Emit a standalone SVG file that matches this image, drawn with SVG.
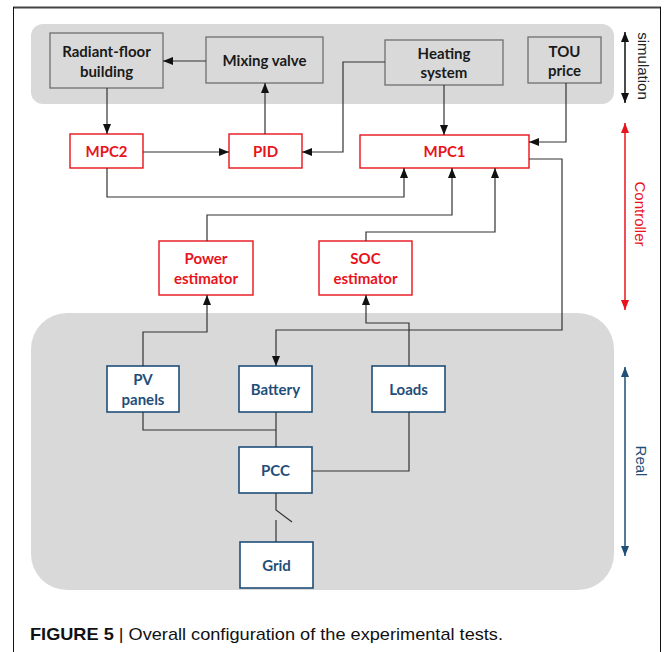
<svg xmlns="http://www.w3.org/2000/svg" width="665" height="652" viewBox="0 0 665 652">
<style>
.band{fill:#d9d9d9}
.sim rect{fill:#d9d9d9;stroke:#6f6f6f;stroke-width:1.3}
.sim text{font-family:Lato,"Open Sans",sans-serif;font-weight:700;font-size:15px;fill:#1a1a1a;text-anchor:middle}
.ctl rect{fill:#fff;stroke:#e8131b;stroke-width:1.4}
.ctl text{font-family:Lato,"Open Sans",sans-serif;font-weight:700;font-size:15px;fill:#e8131b;text-anchor:middle}
.real rect{fill:#fff;stroke:#1f4e79;stroke-width:1.6}
.real text{font-family:Lato,"Open Sans",sans-serif;font-weight:700;font-size:15px;fill:#1f4e79;text-anchor:middle}
.conn path{fill:none;stroke:#333;stroke-width:1.2}
.side{font-family:"Liberation Sans",Arial,sans-serif;font-size:15px;text-anchor:middle;dominant-baseline:central}
</style>
<defs>
<marker id="ah" markerUnits="userSpaceOnUse" markerWidth="10" markerHeight="10" viewBox="0 0 10 10" refX="10" refY="5" orient="auto"><path d="M0,1 L10,5 L0,9 Z" fill="#111"/></marker>
<marker id="ahb" markerUnits="userSpaceOnUse" markerWidth="10" markerHeight="10" viewBox="0 0 10 10" refX="10" refY="5" orient="auto-start-reverse"><path d="M0,1 L10,5 L0,9 Z" fill="#111"/></marker>
<marker id="ahr" markerUnits="userSpaceOnUse" markerWidth="10" markerHeight="10" viewBox="0 0 10 10" refX="10" refY="5" orient="auto-start-reverse"><path d="M0,1 L10,5 L0,9 Z" fill="#e8131b"/></marker>
<marker id="ahu" markerUnits="userSpaceOnUse" markerWidth="10" markerHeight="10" viewBox="0 0 10 10" refX="10" refY="5" orient="auto-start-reverse"><path d="M0,1 L10,5 L0,9 Z" fill="#1f4e79"/></marker>
</defs>
<rect width="665" height="652" fill="#fff"/>
<line x1="13" y1="7.5" x2="661" y2="7.5" stroke="#444" stroke-width="2"/>
<line x1="13.5" y1="7" x2="13.5" y2="652" stroke="#111" stroke-width="1"/>
<line x1="660.5" y1="7" x2="660.5" y2="652" stroke="#111" stroke-width="1"/>
<rect class="band" x="31" y="24" width="583" height="80" rx="12"/>
<rect class="band" x="31" y="313" width="583" height="277" rx="36"/>

<g id="radiant" class="sim"><rect x="50" y="33" width="113" height="55"/><text x="106.5" y="57">Radiant-floor</text><text x="106.5" y="77">building</text></g>
<g id="mixing" class="sim"><rect x="206" y="37" width="117" height="46"/><text x="264.5" y="66">Mixing valve</text></g>
<g id="heating" class="sim"><rect x="385" y="40" width="118" height="45"/><text x="444" y="59">Heating</text><text x="444" y="78">system</text></g>
<g id="tou" class="sim"><rect x="528" y="37" width="73" height="46"/><text x="564.5" y="57">TOU</text><text x="564.5" y="76">price</text></g>

<g id="mpc2" class="ctl"><rect x="70" y="134" width="73" height="34"/><text x="106.5" y="157">MPC2</text></g>
<g id="pid" class="ctl"><rect x="229" y="134" width="73" height="34"/><text x="265.5" y="157">PID</text></g>
<g id="mpc1" class="ctl"><rect x="360" y="135" width="169" height="33"/><text x="444.5" y="157">MPC1</text></g>
<g id="power" class="ctl"><rect x="159" y="241" width="94" height="54"/><text x="206" y="264">Power</text><text x="206" y="284">estimator</text></g>
<g id="soc" class="ctl"><rect x="319" y="241" width="93" height="54"/><text x="365.5" y="264">SOC</text><text x="365.5" y="284">estimator</text></g>

<g id="pv" class="real"><rect x="107" y="366" width="72" height="46"/><text x="143" y="385">PV</text><text x="143" y="405">panels</text></g>
<g id="battery" class="real"><rect x="239" y="366" width="73" height="46"/><text x="275.5" y="395">Battery</text></g>
<g id="loads" class="real"><rect x="372" y="366" width="73" height="46"/><text x="408.5" y="395">Loads</text></g>
<g id="pcc" class="real"><rect x="239" y="447" width="73" height="46"/><text x="275.5" y="476">PCC</text></g>
<g id="grid" class="real"><rect x="240" y="542" width="73" height="46"/><text x="276.5" y="571">Grid</text></g>

<g id="connectors" class="conn">
<path d="M206,61 H163" marker-end="url(#ah)"/>
<path d="M107,88 V134" marker-end="url(#ah)"/>
<path d="M265,134 V83" marker-end="url(#ah)"/>
<path d="M143,152 H229" marker-end="url(#ah)"/>
<path d="M385,62 H343 V152 H302" marker-end="url(#ah)"/>
<path d="M444,85 V135" marker-end="url(#ah)"/>
<path d="M566,83 V142 H529" marker-end="url(#ah)"/>
<path d="M107,168 V197 H404 V168" marker-end="url(#ah)"/>
<path d="M207,241 V215 H452 V168" marker-end="url(#ah)"/>
<path d="M366,241 V232 H495 V168" marker-end="url(#ah)"/>
<path d="M529,159 H562 V330 H276 V366" marker-end="url(#ah)"/>
<path d="M143,366 V332 H207 V295" marker-end="url(#ah)"/>
<path d="M409,366 V323 H366 V295" marker-end="url(#ah)"/>
<path d="M143,412 V430 H276"/>
<path d="M276,412 V447"/>
<path d="M409,412 V471 H312"/>
<path d="M276,493 V510 L292,522"/>
<path d="M276,520 V542"/>
</g>

<g id="side-labels">
<path d="M625,32 V103" stroke="#111" stroke-width="1.5" fill="none" marker-start="url(#ahb)" marker-end="url(#ahb)"/>
<text class="side" transform="translate(643,66) rotate(90)" fill="#222">simulation</text>
<path d="M625,123 V310" stroke="#e8131b" stroke-width="1.5" fill="none" marker-start="url(#ahr)" marker-end="url(#ahr)"/>
<text class="side" transform="translate(640,214) rotate(90)" fill="#e8131b">Controller</text>
<path d="M625,367 V556" stroke="#1f4e79" stroke-width="1.5" fill="none" marker-start="url(#ahu)" marker-end="url(#ahu)"/>
<text class="side" transform="translate(641,461) rotate(90)" fill="#1f4e79">Real</text>
</g>

<text x="30" y="640" font-family="'Liberation Sans',Arial,sans-serif" font-size="17" fill="#111" textLength="473" lengthAdjust="spacingAndGlyphs"><tspan font-weight="700">FIGURE 5</tspan> | Overall configuration of the experimental tests.</text>
</svg>
